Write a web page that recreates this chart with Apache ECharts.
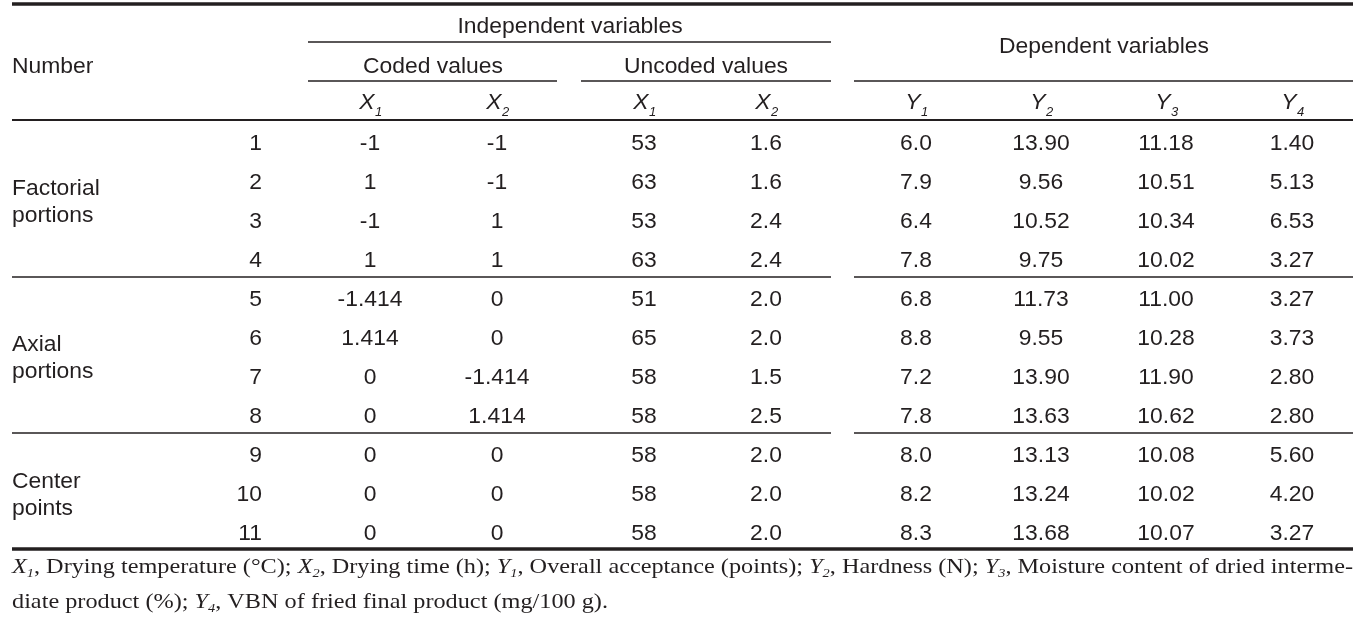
<!DOCTYPE html>
<html><head><meta charset="utf-8">
<script src="https://cdn.jsdelivr.net/npm/echarts@6/dist/echarts.min.js"></script>
<style>html,body{margin:0;padding:0;background:#fff}#c{width:1368px;height:623px}</style>
</head><body><div id="c"></div>
<script>
// ---- data ----
const numbers   = [1, 2, 3, 4, 5, 6, 7, 8, 9, 10, 11];
const codedX1   = [-1, 1, -1, 1, -1.414, 1.414, 0, 0, 0, 0, 0];
const codedX2   = [-1, -1, 1, 1, 0, 0, -1.414, 1.414, 0, 0, 0];
const uncodedX1 = [53, 63, 53, 63, 51, 65, 58, 58, 58, 58, 58];
const uncodedX2 = [1.6, 1.6, 2.4, 2.4, 2.0, 2.0, 1.5, 2.5, 2.0, 2.0, 2.0];
const Y1 = [6.0, 7.9, 6.4, 7.8, 6.8, 8.8, 7.2, 7.8, 8.0, 8.2, 8.3];
const Y2 = [13.90, 9.56, 10.52, 9.75, 11.73, 9.55, 13.90, 13.63, 13.13, 13.24, 13.68];
const Y3 = [11.18, 10.51, 10.34, 10.02, 11.00, 10.28, 11.90, 10.62, 10.08, 10.02, 10.07];
const Y4 = [1.40, 5.13, 6.53, 3.27, 3.27, 3.73, 2.80, 2.80, 5.60, 4.20, 3.27];
const groups = [["Factorial", "portions"], ["Axial", "portions"], ["Center", "points"]];
const groupRows = [[0, 3], [4, 7], [8, 10]];
const headTop = "Independent variables";
const headCoded = "Coded values";
const headUncoded = "Uncoded values";
const headDep = "Dependent variables";
const headNumber = "Number";
const varHeads = [["X", "1"], ["X", "2"], ["X", "1"], ["X", "2"], ["Y", "1"], ["Y", "2"], ["Y", "3"], ["Y", "4"]];
const footLine1 = [["X","i"],["1","s"],[", Drying temperature (°C); ","n"],["X","i"],["2","s"],[", Drying time (h); ","n"],["Y","i"],["1","s"],[", Overall acceptance (points); ","n"],["Y","i"],["2","s"],[", Hardness (N); ","n"],["Y","i"],["3","s"],[", Moisture content of dried interme-","n"]];
const footLine2 = [["diate product (%); ","n"],["Y","i"],["4","s"],[", VBN of fried final product (mg/100 g).","n"]];

// ---- layout ----
const INK = '#231f20';
const SANS = '"Liberation Sans", Arial, sans-serif';
const SERIF = '"Liberation Serif", "Times New Roman", serif';
const FS = 22, SX = 1.04, DY = 2;
const numRight = 262;
const colX = [370, 497, 644, 766, 916, 1041, 1166, 1292];
const rowY = [142, 181, 220, 259, 298, 337, 376, 415, 454, 493, 532];
const L = 12, R = 1353;

const fmt = [v => String(v), v => String(v), v => String(v), v => v.toFixed(1), v => v.toFixed(1), v => v.toFixed(2), v => v.toFixed(2), v => v.toFixed(2)];
const cols = [codedX1, codedX2, uncodedX1, uncodedX2, Y1, Y2, Y3, Y4];

const cells = [];
function add(x, y, text, align, kind) { cells.push({x, y, text, align: align || 'center', kind: kind || 'n'}); }
numbers.forEach((n, r) => add(numRight, rowY[r], String(n), 'right'));
cols.forEach((col, c) => col.forEach((v, r) => add(colX[c], rowY[r], fmt[c](v))));
groups.forEach((g, i) => {
  const mid = (rowY[groupRows[i][0]] + rowY[groupRows[i][1]]) / 2;
  add(L, mid - 13.5, g[0], 'left');
  add(L, mid + 13.5, g[1], 'left');
});
add(570, 25, headTop);
add(433, 65, headCoded);
add(706, 65, headUncoded);
add(1104, 45, headDep);
add(L, 65, headNumber, 'left');
varHeads.forEach((h, c) => add(colX[c], 101, h, 'center', 'var'));

const lines = [
  [L, R, 4, 3.5], [308, 831, 42, 1.5], [308, 557, 81, 1.5], [581, 831, 81, 1.5], [854, R, 81, 1.5],
  [L, R, 120, 1.8], [L, 831, 277, 1.5], [854, R, 277, 1.5], [L, 831, 433, 1.5], [854, R, 433, 1.5],
  [L, R, 549, 3.5]
];

// footnote scale to fit width
const FFS = 22;
const fonts = {n: FFS + 'px ' + SERIF, i: 'italic ' + FFS + 'px ' + SERIF, s: 'italic 13px ' + SERIF};
const mctx = document.createElement('canvas').getContext('2d');
function segWidth(segs) { let w = 0; segs.forEach(s => { mctx.font = fonts[s[1]]; w += mctx.measureText(s[0]).width; }); return w; }
function toRich(segs) { return segs.map(s => '{' + s[1] + '|' + s[0] + '}').join(''); }
const foot = [[footLine1, 567], [footLine2, 602]];

const chart = echarts.init(document.getElementById('c'), null, {renderer: 'canvas'});
chart.setOption({
  animation: false,
  grid: {left: 0, right: 0, top: 0, bottom: 0},
  xAxis: {type: 'value', min: 0, max: 1368, show: false},
  yAxis: {type: 'value', min: 0, max: 623, inverse: true, show: false},
  series: [
    {
      type: 'custom', clip: false, silent: true,
      data: lines.map((l, i) => [l[0], l[2], i]),
      renderItem: (params, api) => {
        const l = lines[params.dataIndex];
        const a = api.coord([l[0], l[2]]), b = api.coord([l[1], l[2]]);
        return {type: 'line', shape: {x1: a[0], y1: a[1], x2: b[0], y2: b[1]}, style: {stroke: INK, lineWidth: l[3]}};
      }
    },
    {
      type: 'custom', clip: false, silent: true,
      data: cells.map((c, i) => [c.x, c.y, i]),
      renderItem: (params, api) => {
        const c = cells[params.dataIndex];
        const p = api.coord([c.x, c.y]);
        if (c.kind === 'var') {
          return {type: 'group', x: p[0], y: p[1] + DY, children: [
            {type: 'text', x: -3, y: 0, scaleX: SX, style: {text: c.text[0], font: 'italic ' + FS + 'px ' + SANS, fill: INK, align: 'center', verticalAlign: 'middle'}},
            {type: 'text', x: 5, y: 9, style: {text: c.text[1], font: 'italic 13px ' + SANS, fill: INK, align: 'left', verticalAlign: 'middle'}}
          ]};
        }
        return {type: 'text', x: p[0], y: p[1] + DY, scaleX: SX, style: {text: c.text, font: FS + 'px ' + SANS, fill: INK, align: c.align, verticalAlign: 'middle'}};
      }
    },
    {
      type: 'custom', clip: false, silent: true,
      data: foot.map((f, i) => [L, f[1], i]),
      renderItem: (params, api) => {
        const f = foot[params.dataIndex];
        const sc = (R - L) / segWidth(footLine1);
        const p = api.coord([L, f[1]]);
        return {type: 'text', x: p[0], y: p[1], scaleX: sc, style: {
          text: toRich(f[0]), align: 'left', verticalAlign: 'middle', fill: INK,
          rich: {
            n: {font: fonts.n, fill: INK, lineHeight: 26},
            i: {font: fonts.i, fill: INK, lineHeight: 26},
            s: {font: fonts.s, fill: INK, lineHeight: 12, verticalAlign: 'bottom'}
          }
        }};
      }
    }
  ]
});
</script></body></html>
